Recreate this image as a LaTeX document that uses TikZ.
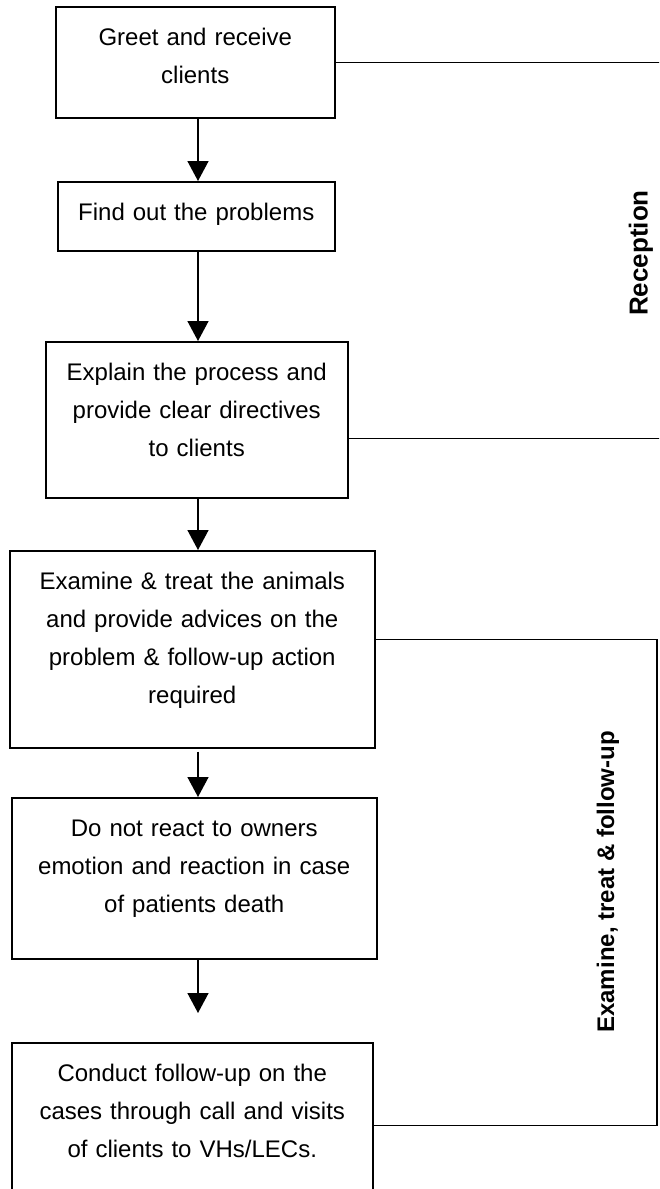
\documentclass[tikz,border=0pt]{standalone}
\usepackage{fontspec}
\setmainfont{Liberation Sans}
\usetikzlibrary{arrows.meta,calc}

\tikzset{
  stepbox/.style={draw, line width=0.75pt, anchor=north west, align=center,
    inner xsep=3pt, inner ysep=0pt, text height=19.5pt,
    font=\fontsize{12}{19}\selectfont},
  flow/.style={line width=0.75pt, -{Triangle[width=10.5pt,length=10pt]}},
  bracket/.style={line width=0.7pt},
  phase/.style={rotate=90, font=\fontsize{12}{14}\selectfont\bfseries}
}

\begin{document}
\begin{tikzpicture}[x=0.5pt,y=-0.5pt]
\clip (0,0) rectangle (659,1189);
\node[stepbox, text width=133.5pt, text depth=36pt] (greet) at (55,6) {Greet and receive\\clients};
\node[stepbox, text width=132.5pt, text depth=15pt] (problems) at (57,181) {Find out the problems};
\node[stepbox, text width=145pt, text depth=58.5pt] (explain) at (45,341) {Explain the process and\\provide clear directives\\to clients};
\node[stepbox, text width=176.5pt, text depth=79pt] (examine) at (9,550) {Examine \& treat the animals\\and provide advices on the\\problem \& follow-up action\\required};
\node[stepbox, text width=176.5pt, text depth=61pt] (noreact) at (11,797) {Do not react to owners\\emotion and reaction in case\\of patients death};
\node[stepbox, text width=174.5pt, text depth=58pt] (followup) at (11,1042) {Conduct follow-up on the\\cases through call and visits\\of clients to VHs/LECs.};
\coordinate (spine) at (198,0);
\coordinate (edge) at (662,0);
\coordinate (bar) at (657,0);
\draw[flow] (greet.south -| spine) -- (problems.north -| spine);
\draw[flow] (problems.south -| spine) -- (explain.north -| spine);
\draw[flow] (explain.south -| spine) -- (examine.north -| spine);
\draw[flow, shorten <=1.5pt] (examine.south -| spine) -- (noreact.north -| spine);
\draw[flow, shorten >=14.5pt] (noreact.south -| spine) -- (followup.north -| spine);
% phase brackets
\draw[bracket] (greet.east) -- (greet.east -| edge);
\draw[bracket] ($(explain.east)+(0,19)$) coordinate (r2) -- (r2 -| edge);
\draw[bracket] ($(examine.east)+(0,-9.5)$) coordinate (e1) -- (e1 -| bar) |- ($(followup.east)+(0,5.5)$);
\node[phase, font=\fontsize{13}{15}\selectfont\bfseries] (reception) at (641,253) {Reception};
\node[phase] (treatphase) at (608,882) {Examine, treat \& follow-up};
\end{tikzpicture}
\end{document}
